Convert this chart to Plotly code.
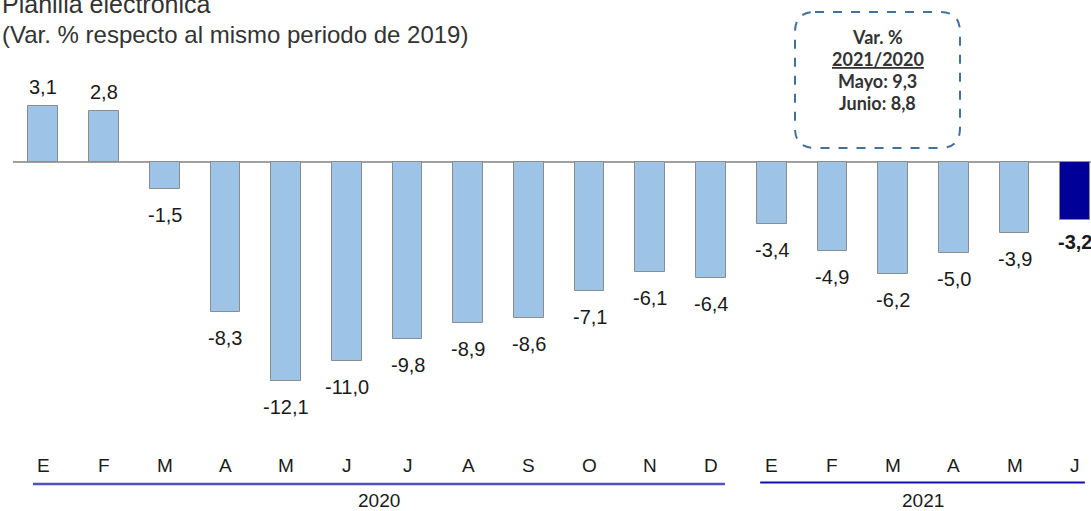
import plotly.graph_objects as go

# ---------------- data ----------------
months = ["E", "F", "M", "A", "M", "J", "J", "A", "S", "O", "N", "D",
          "E", "F", "M", "A", "M", "J"]
values = [3.1, 2.8, -1.5, -8.3, -12.1, -11.0, -9.8, -8.9, -8.6, -7.1, -6.1, -6.4,
          -3.4, -4.9, -6.2, -5.0, -3.9, -3.2]
year_labels = ["2020", "2021"]
year_counts = [12, 6]
title_text = "Planilla electrónica"
subtitle_text = "(Var. % respecto al mismo periodo de 2019)"
box_lines = ["Var. %", "<u>2021/2020</u>", "Mayo: 9,3", "Junio: 8,8"]

# ---------------- geometry / style ----------------
W, H = 1091, 511
x0px, step = 43.3, 60.7          # pixel centre of first category, category pitch
zero_px, ppu = 162.0, 18.1        # pixel row of zero, pixels per unit
idx = list(range(len(values)))
xr = [-x0px / step, (W - x0px) / step]
yr = [-(H - zero_px) / ppu, zero_px / ppu]

LIGHT = "#9DC3E6"
DARK = "#000099"
EDGE = "#8C8C8C"
FONT = "Liberation Sans, Arial, sans-serif"

colors = [LIGHT] * (len(values) - 1) + [DARK]

fig = go.Figure()
fig.add_trace(go.Bar(
    x=idx, y=values, width=0.49,
    marker=dict(color=colors, line=dict(color=EDGE, width=1)),
    hoverinfo="skip", showlegend=False,
))

def fmt(v):
    return f"{v:.1f}".replace(".", ",")

annotations = []
for i, v in enumerate(values):
    last = i == len(values) - 1
    txt = fmt(v)
    if last:
        txt = f"<b>{txt}</b>"
    annotations.append(dict(
        x=i, y=v, xref="x", yref="y", text=txt, showarrow=False,
        xanchor="center",
        yanchor="bottom" if v > 0 else "top",
        yshift=6 if v > 0 else (-9 if last else -13),
        font=dict(family=FONT, size=20, color="#1a1a1a"),
    ))

# month labels
for i, m in enumerate(months):
    annotations.append(dict(
        x=i, y=1 - 465 / H, xref="x", yref="paper", text=m, showarrow=False,
        xanchor="center", yanchor="middle",
        font=dict(family=FONT, size=19, color="#1a1a1a"),
    ))

# year groups
shapes = []
start = 0
year_line_styles = [dict(color="#5050C8", width=2.5), dict(color="#1010B0", width=2)]
year_line_y = [484, 482.5]
for k, (lab, n) in enumerate(zip(year_labels, year_counts)):
    a, b = start, start + n - 1
    xa = a - 0.17 if k == 0 else a - 0.19
    xb = b + 0.23 if k == 0 else b + 0.16
    shapes.append(dict(type="line", xref="x", yref="paper",
                       x0=xa, x1=xb, y0=1 - year_line_y[k] / H, y1=1 - year_line_y[k] / H,
                       line=year_line_styles[k]))
    annotations.append(dict(
        x=(xa + xb) / 2, y=1 - 500 / H, xref="x", yref="paper", text=lab,
        showarrow=False, xanchor="center", yanchor="middle",
        font=dict(family=FONT, size=19, color="#1a1a1a"),
    ))
    start += n

# zero line
shapes.append(dict(type="line", xref="x", yref="y", x0=-0.5, x1=xr[1], y0=0, y1=0,
                   line=dict(color="#808080", width=1.5), layer="below"))

# title & subtitle
annotations.append(dict(x=0, y=1 - 20 / H, xref="paper", yref="paper", text=title_text,
                        showarrow=False, xanchor="left", yanchor="bottom",
                        font=dict(family=FONT, size=25, color="#333333")))
annotations.append(dict(x=0, y=1 - 34 / H, xref="paper", yref="paper", text=subtitle_text,
                        showarrow=False, xanchor="left", yanchor="middle",
                        font=dict(family=FONT, size=24, color="#333333")))

# dashed rounded box
bx0, bx1, by0, by1, r = 795, 960, 12, 148, 20
def P(px, py):
    return f"{px / W:.5f},{1 - py / H:.5f}"
path = (f"M {P(bx0 + r, by0)} L {P(bx1 - r, by0)} Q {P(bx1, by0)} {P(bx1, by0 + r)} "
        f"L {P(bx1, by1 - r)} Q {P(bx1, by1)} {P(bx1 - r, by1)} "
        f"L {P(bx0 + r, by1)} Q {P(bx0, by1)} {P(bx0, by1 - r)} "
        f"L {P(bx0, by0 + r)} Q {P(bx0, by0)} {P(bx0 + r, by0)} Z")
shapes.append(dict(type="path", xref="paper", yref="paper", path=path,
                   line=dict(color="#41719C", width=2, dash="dash")))
for j, line in enumerate(box_lines):
    annotations.append(dict(
        x=(bx0 + bx1) / 2 / W, y=1 - (37 + 22 * j) / H, xref="paper", yref="paper",
        text=f"<b>{line}</b>", showarrow=False, xanchor="center", yanchor="middle",
        font=dict(family="Lato, Carlito, sans-serif", size=18, color="#333333"),
    ))

fig.update_layout(
    width=W, height=H, autosize=False,
    margin=dict(l=0, r=0, t=0, b=0),
    paper_bgcolor="white", plot_bgcolor="white",
    xaxis=dict(range=xr, visible=False, fixedrange=True),
    yaxis=dict(range=yr, visible=False, fixedrange=True),
    annotations=annotations, shapes=shapes,
    bargap=0,
)

fig.write_html(
    "out.html",
    config={"displayModeBar": False},
    post_script="document.body.style.margin='0';document.body.style.overflow='hidden';",
)
